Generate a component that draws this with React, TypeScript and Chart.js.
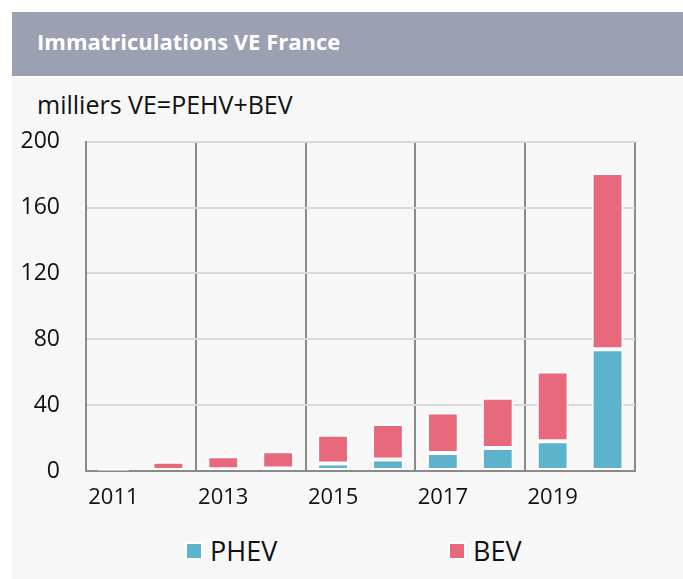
import React, { useEffect, useRef } from "react";
import { Chart, registerables } from "chart.js";

Chart.register(...registerables);

const years = ["2011", "2012", "2013", "2014", "2015", "2016", "2017", "2018", "2019", "2020"];
const phev = [0.3, 0.6, 1, 1.5, 4.5, 7, 11, 14, 18, 74];
const bev = [1.2, 5, 8, 10.5, 17.5, 21.5, 24.5, 30.5, 42.5, 107];
const yMax = 200;
const yStep = 40;

const BLUE = "#5db3cb";
const PINK = "#e8697c";
const FONT = "'Open Sans', sans-serif";

export default function App() {
  const ref = useRef<HTMLCanvasElement | null>(null);

  useEffect(() => {
    if (!ref.current) return;
    const chart = new Chart(ref.current, {
      type: "bar",
      data: {
        labels: years,
        datasets: [
          {
            label: "PHEV",
            data: phev,
            backgroundColor: BLUE,
            borderColor: "#ffffff",
            borderWidth: 2,
            borderSkipped: false,
            barPercentage: 0.58,
            categoryPercentage: 1,
          },
          {
            label: "BEV",
            data: bev,
            backgroundColor: PINK,
            borderColor: "#ffffff",
            borderWidth: 2,
            borderSkipped: false,
            barPercentage: 0.58,
            categoryPercentage: 1,
          },
        ],
      },
      options: {
        animation: false,
        responsive: false,
        maintainAspectRatio: false,
        layout: { padding: { top: 17, right: 48, left: 0, bottom: 0 } },
        plugins: { legend: { display: false }, tooltip: { enabled: false } },
        scales: {
          x: {
            stacked: true,
            offset: true,
            afterFit: (s: any) => {
              s.height = 46;
            },
            grid: {
              offset: true,
              drawTicks: false,
              lineWidth: 2,
              color: (ctx: any) =>
                ctx.index === undefined || ctx.index % 2 === 0 ? "#8a8a8a" : "rgba(0,0,0,0)",
            },
            border: { color: "#8a8a8a", width: 2 },
            ticks: {
              autoSkip: false,
              maxRotation: 0,
              padding: 14,
              color: "#111",
              font: { family: FONT, size: 22 },
              callback: (_v: any, i: number) => (i % 2 === 0 ? years[i] : ""),
            },
          },
          y: {
            stacked: true,
            min: 0,
            max: yMax,
            afterFit: (s: any) => {
              s.width = 86;
            },
            grid: { color: "#d9d9d9", lineWidth: 2, drawTicks: false },
            border: { color: "#8a8a8a", width: 2 },
            ticks: {
              stepSize: yStep,
              padding: 26,
              color: "#111",
              font: { family: FONT, size: 23 },
            },
          },
        },
      },
    });
    return () => chart.destroy();
  }, []);

  return (
    <div style={{ position: "fixed", left: 0, top: 0, width: 683, height: 579, background: "#ffffff", fontFamily: FONT }}>
      <div
        style={{
          position: "absolute",
          left: 12,
          top: 12,
          width: 671,
          height: 64,
          background: "#9ba1b3",
        }}
      >
        <div
          style={{
            position: "absolute",
            left: 25,
            top: 0,
            height: 64,
            lineHeight: "58px",
            color: "#ffffff",
            fontWeight: 700,
            fontSize: 22,
            whiteSpace: "nowrap",
          }}
        >
          Immatriculations VE France
        </div>
      </div>
      <div
        style={{
          position: "absolute",
          left: 12,
          top: 77,
          width: 671,
          height: 502,
          background: "#f7f7f7",
        }}
      />
      <div
        style={{
          position: "absolute",
          left: 37,
          top: 87,
          lineHeight: "34px",
          fontSize: 25,
          color: "#111",
          whiteSpace: "nowrap",
        }}
      >
        milliers VE=PEHV+BEV
      </div>
      <canvas
        ref={ref}
        width={683}
        height={415}
        style={{ position: "absolute", left: 0, top: 102, width: 683, height: 415 }}
      />
      <div style={{ position: "absolute", left: 185, top: 535, height: 32, display: "flex", alignItems: "center" }}>
        <span style={{ width: 18, height: 18, background: BLUE, border: "2px solid #fff", boxSizing: "border-box", display: "inline-block" }} />
        <span style={{ marginLeft: 7, fontSize: 27, color: "#111", lineHeight: "32px" }}>PHEV</span>
      </div>
      <div style={{ position: "absolute", left: 448, top: 535, height: 32, display: "flex", alignItems: "center" }}>
        <span style={{ width: 18, height: 18, background: PINK, border: "2px solid #fff", boxSizing: "border-box", display: "inline-block" }} />
        <span style={{ marginLeft: 7, fontSize: 27, color: "#111", lineHeight: "32px" }}>BEV</span>
      </div>
    </div>
  );
}
